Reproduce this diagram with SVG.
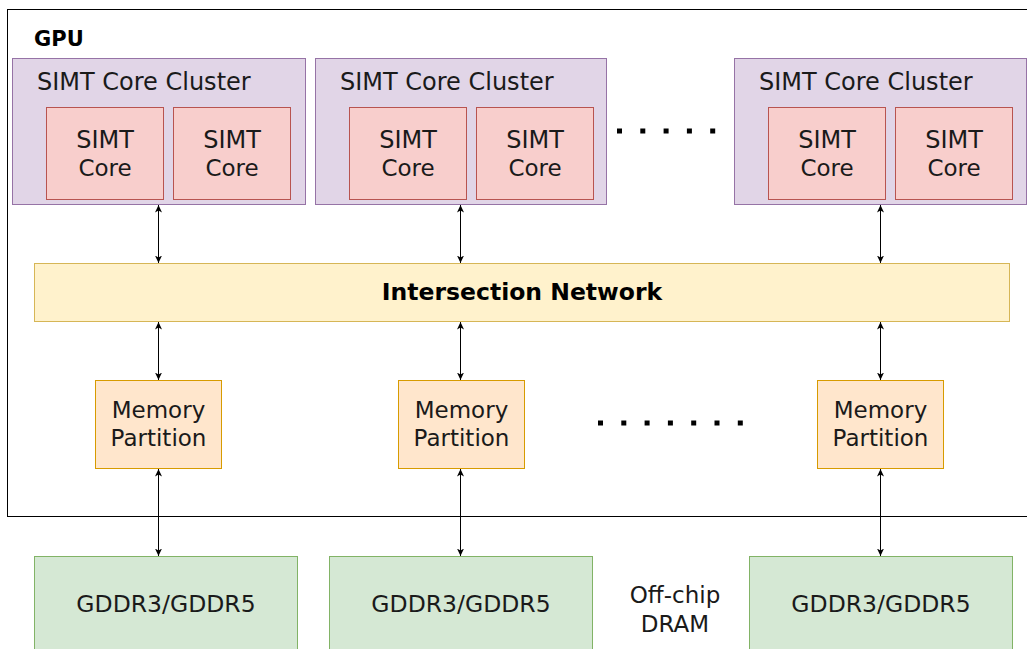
<svg xmlns="http://www.w3.org/2000/svg" width="1027" height="649" viewBox="0 0 1027 649">
<style>
text{font-family:"DejaVu Sans","Liberation Sans",sans-serif;fill:#1a1a1a;text-anchor:middle}
.cl{fill:#e1d5e7;stroke:#9673a6;stroke-width:1}
.co{fill:#f8cecc;stroke:#b85450;stroke-width:1}
.mp{fill:#ffe6cc;stroke:#d79b00;stroke-width:1}
.dr{fill:#d5e8d4;stroke:#82b366;stroke-width:1}
.nw{fill:#fff2cc;stroke:#d6b656;stroke-width:1}
.t24{font-size:24px}
.t23{font-size:23px}
.lt{text-anchor:start}
.cn{stroke:#000;stroke-width:1;fill:none;marker-start:url(#ah);marker-end:url(#ah)}
.dots{stroke:#000;stroke-width:5;fill:none;stroke-dasharray:5 18.3}
</style>
<defs>
<marker id="ah" viewBox="0 0 8 8" refX="7.5" refY="4" markerWidth="8" markerHeight="8" markerUnits="userSpaceOnUse" orient="auto-start-reverse">
<path d="M0,0.5 L7.5,4 L0,7.5 L2,4 z" fill="#000"/>
</marker>
</defs>
<rect width="1027" height="649" fill="#fff"/>
<g id="gpu">
<rect x="7.5" y="9.5" width="1030" height="507" fill="none" stroke="#000" stroke-width="1"/>
<text x="34" y="46" class="lt" style="font-size:21px;font-weight:bold;fill:#000">GPU</text>
</g>
<g id="cluster1">
<rect class="cl" x="12.5" y="58.5" width="293" height="146"/>
<text class="t24 lt" x="37" y="90">SIMT Core Cluster</text>
<rect class="co" x="46.5" y="107.5" width="117" height="92"/>
<text class="t24" x="105" y="148">SIMT</text><text class="t23" x="105" y="176">Core</text>
<rect class="co" x="173.5" y="107.5" width="117" height="92"/>
<text class="t24" x="232" y="148">SIMT</text><text class="t23" x="232" y="176">Core</text>
</g>
<g id="cluster2">
<rect class="cl" x="315.5" y="58.5" width="291" height="146"/>
<text class="t24 lt" x="340" y="90">SIMT Core Cluster</text>
<rect class="co" x="349.5" y="107.5" width="117" height="92"/>
<text class="t24" x="408" y="148">SIMT</text><text class="t23" x="408" y="176">Core</text>
<rect class="co" x="476.5" y="107.5" width="117" height="92"/>
<text class="t24" x="535" y="148">SIMT</text><text class="t23" x="535" y="176">Core</text>
</g>
<g id="cluster3">
<rect class="cl" x="734.5" y="58.5" width="292" height="146"/>
<text class="t24 lt" x="759" y="90">SIMT Core Cluster</text>
<rect class="co" x="768.5" y="107.5" width="117" height="92"/>
<text class="t24" x="827" y="148">SIMT</text><text class="t23" x="827" y="176">Core</text>
<rect class="co" x="895.5" y="107.5" width="117" height="92"/>
<text class="t24" x="954" y="148">SIMT</text><text class="t23" x="954" y="176">Core</text>
</g>
<g id="dots-top"><path class="dots" d="M617,131 H720"/></g>
<g id="network">
<rect class="nw" x="34.5" y="263.5" width="975" height="58"/>
<text x="522" y="300" style="font-size:23.5px;font-weight:bold;fill:#000">Intersection Network</text>
</g>
<g id="mp1">
<rect class="mp" x="95.5" y="380.5" width="126" height="88"/>
<text class="t23" x="158.5" y="418">Memory</text><text class="t23" x="158.5" y="446">Partition</text>
</g>
<g id="mp2">
<rect class="mp" x="398.5" y="380.5" width="126" height="88"/>
<text class="t23" x="461.5" y="418">Memory</text><text class="t23" x="461.5" y="446">Partition</text>
</g>
<g id="mp3">
<rect class="mp" x="817.5" y="380.5" width="126" height="88"/>
<text class="t23" x="880.5" y="418">Memory</text><text class="t23" x="880.5" y="446">Partition</text>
</g>
<g id="dots-bottom"><path class="dots" d="M598,423 H745"/></g>
<g id="dram1">
<rect class="dr" x="34.5" y="556.5" width="263" height="100"/>
<text x="166" y="612" style="font-size:23.5px">GDDR3/GDDR5</text>
</g>
<g id="dram2">
<rect class="dr" x="329.5" y="556.5" width="263" height="100"/>
<text x="461" y="612" style="font-size:23.5px">GDDR3/GDDR5</text>
</g>
<g id="dram3">
<rect class="dr" x="749.5" y="556.5" width="263" height="100"/>
<text x="881" y="612" style="font-size:23.5px">GDDR3/GDDR5</text>
</g>
<g id="offchip">
<text class="t23" x="675" y="603">Off-chip</text>
<text class="t23" x="675" y="632">DRAM</text>
</g>
<g id="connectors">
<line class="cn" x1="158.5" y1="205" x2="158.5" y2="263"/>
<line class="cn" x1="460.5" y1="205" x2="460.5" y2="263"/>
<line class="cn" x1="880.5" y1="205" x2="880.5" y2="263"/>
<line class="cn" x1="158.5" y1="322" x2="158.5" y2="380"/>
<line class="cn" x1="460.5" y1="322" x2="460.5" y2="380"/>
<line class="cn" x1="880.5" y1="322" x2="880.5" y2="380"/>
<line class="cn" x1="158.5" y1="469" x2="158.5" y2="556"/>
<line class="cn" x1="460.5" y1="469" x2="460.5" y2="556"/>
<line class="cn" x1="880.5" y1="469" x2="880.5" y2="556"/>
</g>
</svg>
